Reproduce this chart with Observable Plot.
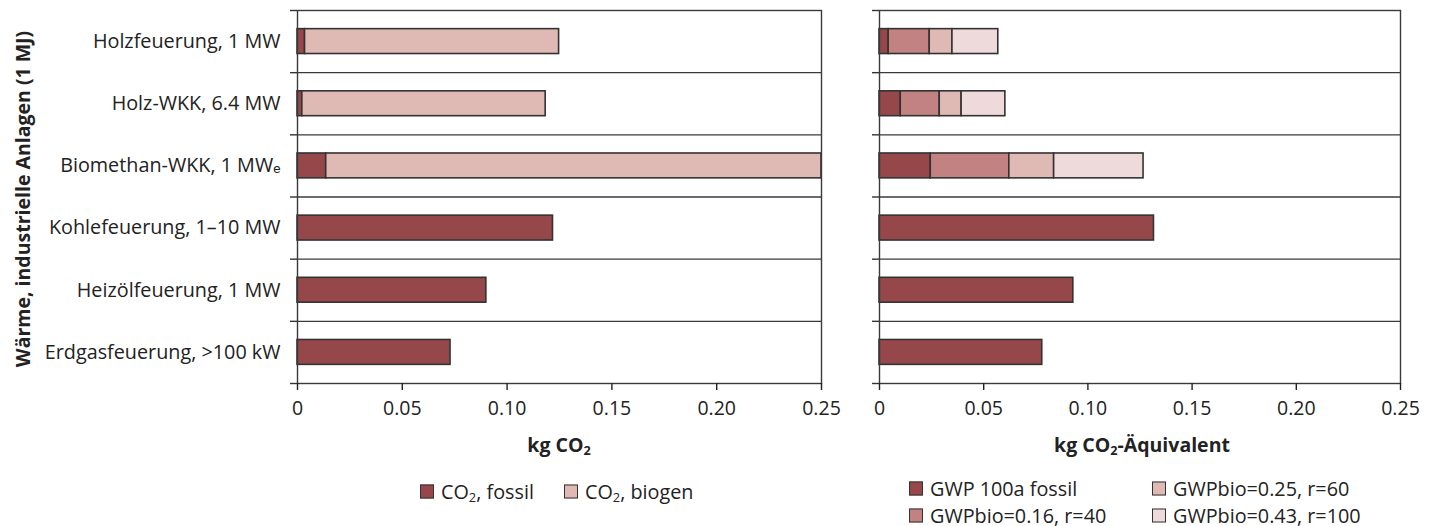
<!DOCTYPE html>
<html>
<head>
<meta charset="utf-8">
<script src="https://cdn.jsdelivr.net/npm/d3@7"></script>
<script src="https://cdn.jsdelivr.net/npm/@observablehq/plot@0.6"></script>
<style>
  html, body { margin: 0; padding: 0; background: #fff; }
  body { width: 1437px; height: 526px; position: relative; overflow: hidden; font-family: "Open Sans", sans-serif; color: #222; }
  .abs { position: absolute; }
  .ytitle { position: absolute; left: 22px; top: 199px; transform: translate(-50%, -50%) rotate(-90deg); font-weight: bold; font-size: 19.5px; white-space: nowrap; }
  .xtitle { position: absolute; top: 444px; transform: translate(-50%, -50%); font-weight: bold; font-size: 19.5px; white-space: nowrap; }
  .legend { position: absolute; font-size: 19.8px; line-height: 21px; white-space: nowrap; }
  .item { position: absolute; display: flex; align-items: center; transform: translateY(-50%); }
  .sw { width: 12px; height: 12px; border: 1.5px solid #333; margin-right: 7px; }
  sub { font-size: 0.65em; vertical-align: -0.25em; line-height: 0; }
  svg { overflow: visible; }
</style>
</head>
<body>
<div id="left" class="abs" style="left:0;top:0"></div>
<div id="right" class="abs" style="left:830px;top:0"></div>
<div class="ytitle">Wärme, industrielle Anlagen (1 MJ)</div>
<div class="xtitle" style="left:559px">kg CO<sub>2</sub></div>
<div class="xtitle" style="left:1142px">kg CO<sub>2</sub>-Äquivalent</div>
<div id="legendL"></div>
<div id="legendR"></div>
<script>
const categories = ["Holzfeuerung, 1 MW", "Holz-WKK, 6.4 MW", "Biomethan-WKK, 1 MWₑ", "Kohlefeuerung, 1–10 MW", "Heizölfeuerung, 1 MW", "Erdgasfeuerung, >100 kW"];
const xTicks = [0, 0.05, 0.10, 0.15, 0.20, 0.25];
const xTickLabels = ["0", "0.05", "0.10", "0.15", "0.20", "0.25"];

// left panel: kg CO2
const leftSeries = ["CO₂, fossil", "CO₂, biogen"];
const leftLegendHTML = ["CO<sub>2</sub>, fossil", "CO<sub>2</sub>, biogen"];
const leftColors = ["#96474a", "#dfbab5"];
const co2Fossil = [0.0036, 0.0023, 0.0137, 0.1219, 0.0901, 0.0730];
const co2Biogen = [0.1212, 0.1161, 0.2363, 0, 0, 0];

// right panel: kg CO2-Äquivalent
const rightSeries = ["GWP 100a fossil", "GWPbio=0.16, r=40", "GWPbio=0.25, r=60", "GWPbio=0.43, r=100"];
const rightColors = ["#96474a", "#c38282", "#dfbab5", "#eedada"];
const gwpFossil = [0.0044, 0.0102, 0.0246, 0.1317, 0.0930, 0.0781];
const gwpBio016 = [0.0197, 0.0187, 0.0377, 0, 0, 0];
const gwpBio025 = [0.0109, 0.0105, 0.0215, 0, 0, 0];
const gwpBio043 = [0.0220, 0.0210, 0.0429, 0, 0, 0];

function stackRows(seriesNames, arrays) {
  const rows = [];
  categories.forEach((c, i) => {
    let acc = 0;
    arrays.forEach((arr, s) => {
      const v = arr[i];
      if (v > 0) rows.push({i, category: c, series: seriesNames[s], x1: acc, x2: acc + v});
      acc += v;
    });
  });
  return rows;
}

const rowIdx = d3.range(categories.length);
const bounds = d3.range(categories.length + 1);

function panel({width, marginLeft, marginRight, seriesNames, colors, arrays, labels}) {
  const data = stackRows(seriesNames, arrays);
  const marks = [
    Plot.ruleY(bounds.slice(1, -1), {x1: 0, x2: 0.25, stroke: "#3a3a3a", strokeWidth: 1.3}),
    Plot.rect(data, {
      x1: "x1", x2: "x2",
      y1: d => d.i + 0.3, y2: d => d.i + 0.7,
      fill: "series", stroke: "#333", strokeWidth: 1.6
    }),
    Plot.frame({stroke: "#3a3a3a", strokeWidth: 1.4}),
    Plot.axisY(bounds, {tickSize: 7, tickFormat: () => "", stroke: "#333", strokeWidth: 1.4, label: null}),
    Plot.axisX(xTicks, {tickSize: 7, tickPadding: 11, tickFormat: (d, k) => xTickLabels[k], fontSize: 19.5, strokeWidth: 1.4, label: null})
  ];
  if (labels) {
    marks.push(Plot.axisY(rowIdx.map(i => i + 0.5), {tickSize: 0, tickPadding: 17, tickFormat: v => categories[Math.floor(v)], fontSize: 19.8, label: null}));
  }
  return Plot.plot({
    width, height: 420,
    marginTop: 10, marginBottom: 37, marginLeft, marginRight,
    style: {fontFamily: "'Open Sans', sans-serif", fontSize: "19px", color: "#222", background: "transparent", overflow: "visible"},
    x: {domain: [0, 0.25], label: null},
    y: {domain: [0, categories.length], reverse: true, label: null, axis: null},
    color: {domain: seriesNames, range: colors},
    marks
  });
}

document.getElementById("left").append(panel({
  width: 830, marginLeft: 297, marginRight: 9,
  seriesNames: leftSeries, colors: leftColors, arrays: [co2Fossil, co2Biogen], labels: true
}));
document.getElementById("right").append(panel({
  width: 607, marginLeft: 49, marginRight: 37,
  seriesNames: rightSeries, colors: rightColors, arrays: [gwpFossil, gwpBio016, gwpBio025, gwpBio043], labels: false
}));

function legend(el, items) {
  const c = document.getElementById(el);
  items.forEach(([html, color, x, y]) => {
    const d = document.createElement("div");
    d.className = "legend item";
    d.style.left = x + "px"; d.style.top = y + "px";
    d.innerHTML = `<span class="sw" style="background:${color}"></span><span>${html}</span>`;
    c.append(d);
  });
}
legend("legendL", [
  [leftLegendHTML[0], leftColors[0], 420, 491],
  [leftLegendHTML[1], leftColors[1], 564, 491]
]);
legend("legendR", [
  [rightSeries[0], rightColors[0], 909, 488],
  [rightSeries[1], rightColors[1], 909, 515],
  [rightSeries[2], rightColors[2], 1152, 488],
  [rightSeries[3], rightColors[3], 1152, 515]
]);
</script>
</body>
</html>
